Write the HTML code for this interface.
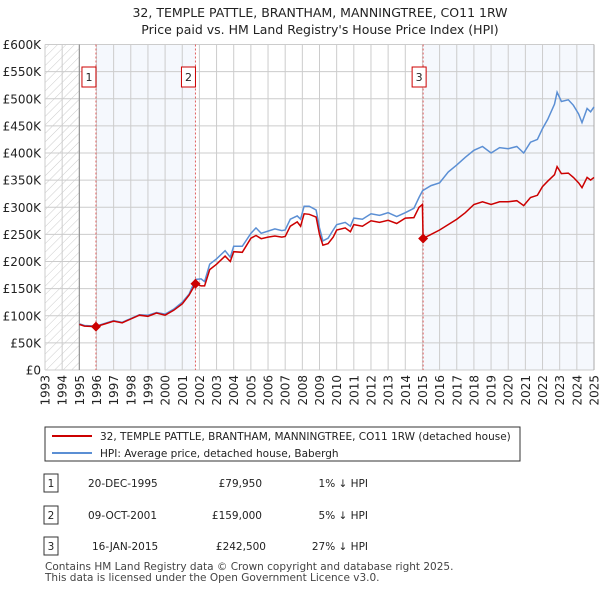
<!DOCTYPE html>
<html><head><meta charset="utf-8"><style>
body{margin:0;background:#fff;font-family:"DejaVu Sans","Liberation Sans",sans-serif;}
svg text{font-family:"DejaVu Sans","Liberation Sans",sans-serif;}
</style></head><body>
<svg width="600" height="590" id="svg">
<text x="320" y="17" text-anchor="middle" font-size="12.5" fill="#222">32, TEMPLE PATTLE, BRANTHAM, MANNINGTREE, CO11 1RW</text>
<text x="320" y="34" text-anchor="middle" font-size="12.5" fill="#222">Price paid vs. HM Land Registry's House Price Index (HPI)</text>
<defs><pattern id="hatch" width="6" height="6" patternUnits="userSpaceOnUse" patternTransform="rotate(45)"><line x1="0" y1="0" x2="0" y2="6" stroke="#ccc" stroke-width="1"/></pattern></defs>
<g id="plot"></g>
<rect x="45" y="427" width="475" height="34" fill="#fff" stroke="#333"/>
<line x1="52" y1="436" x2="92" y2="436" stroke="#cc0000" stroke-width="2"/>
<text x="100" y="440" font-size="10.5" fill="#222">32, TEMPLE PATTLE, BRANTHAM, MANNINGTREE, CO11 1RW (detached house)</text>
<line x1="52" y1="453" x2="92" y2="453" stroke="#5b8fd4" stroke-width="2"/>
<text x="100" y="457" font-size="10.5" fill="#222">HPI: Average price, detached house, Babergh</text>
<g font-size="10.5" fill="#222">
<rect x="44" y="474" width="14" height="18" fill="#fff" stroke="#333"/><text x="51" y="487" text-anchor="middle">1</text>
<text x="88" y="487">20-DEC-1995</text><text x="262" y="487" text-anchor="end">£79,950</text><text x="368" y="487" text-anchor="end">1% ↓ HPI</text>
<rect x="44" y="506" width="14" height="18" fill="#fff" stroke="#333"/><text x="51" y="519" text-anchor="middle">2</text>
<text x="88" y="519">09-OCT-2001</text><text x="262" y="519" text-anchor="end">£159,000</text><text x="368" y="519" text-anchor="end">5% ↓ HPI</text>
<rect x="44" y="537" width="14" height="18" fill="#fff" stroke="#333"/><text x="51" y="550" text-anchor="middle">3</text>
<text x="92" y="550">16-JAN-2015</text><text x="266" y="550" text-anchor="end">£242,500</text><text x="368" y="550" text-anchor="end">27% ↓ HPI</text>
</g>
<text x="45" y="570" font-size="10.5" fill="#444">Contains HM Land Registry data © Crown copyright and database right 2025.</text>
<text x="45" y="581" font-size="10.5" fill="#444">This data is licensed under the Open Government Licence v3.0.</text>
</svg>
<script>
const times=[1995.0,1995.3,1995.97,1996.5,1997.0,1997.5,1998.0,1998.5,1999.0,1999.5,2000.0,2000.5,2001.0,2001.4,2001.77,2002.1,2002.3,2002.6,2003.0,2003.5,2003.8,2004.0,2004.5,2005.0,2005.3,2005.6,2006.0,2006.4,2006.8,2007.0,2007.3,2007.7,2007.9,2008.1,2008.4,2008.8,2009.0,2009.2,2009.5,2009.8,2010.0,2010.5,2010.8,2011.0,2011.5,2012.0,2012.5,2013.0,2013.5,2014.0,2014.5,2014.8,2015.0,2015.04,2015.5,2016.0,2016.5,2017.0,2017.5,2018.0,2018.5,2019.0,2019.5,2020.0,2020.5,2020.9,2021.3,2021.7,2022.0,2022.3,2022.7,2022.85,2023.1,2023.5,2023.8,2024.1,2024.3,2024.6,2024.8,2025.0];
const hpiValues=[85,82,81,86,91,88,95,102,101,106,103,112,125,140,167,168,163,195,205,220,208,228,228,252,262,252,256,260,257,258,278,284,278,302,302,295,262,238,243,258,268,272,265,280,278,288,285,290,283,290,298,318,330,331,340,345,365,378,392,405,412,400,410,408,412,400,420,425,445,462,490,512,495,498,488,472,456,482,476,485];
const priceValues=[84,81,80,85,90,87,94,101,99,105,101,110,122,138,159,155,155,185,195,210,200,218,217,243,248,242,245,247,245,246,265,273,265,288,287,282,250,230,233,245,258,262,255,268,265,275,272,276,270,280,281,300,305,242.5,250,258,268,278,290,305,310,305,310,310,312,303,318,322,338,348,360,375,362,363,355,345,336,355,350,355];
const yTicks=[0,50,100,150,200,250,300,350,400,450,500,550,600];
const yTickLabels=["£0","£50K","£100K","£150K","£200K","£250K","£300K","£350K","£400K","£450K","£500K","£550K","£600K"];
const xYears=[1993,1994,1995,1996,1997,1998,1999,2000,2001,2002,2003,2004,2005,2006,2007,2008,2009,2010,2011,2012,2013,2014,2015,2016,2017,2018,2019,2020,2021,2022,2023,2024,2025];
const saleTimes=[1995.97,2001.77,2015.04];
const salePrices=[79.95,159,242.5];
const saleLabels=["1","2","3"];
const X0=45,X1=594,Y0=370,Y1=44.5;
const x=t=>X0+(t-1993)/(2025-1993)*(X1-X0);
const y=v=>Y0-v/600*(Y0-Y1);
const NS="http://www.w3.org/2000/svg";
const g=document.getElementById('plot');
function mk(tag,attrs){const e=document.createElementNS(NS,tag);for(const k in attrs)e.setAttribute(k,attrs[k]);g.appendChild(e);return e;}
let e;
e=mk('rect',{x:x(1993),y:Y1,width:x(1995)-x(1993),height:Y0-Y1,fill:'url(#hatch)'});


e=mk('rect',{x:x(saleTimes[0]),y:Y1,width:x(saleTimes[1])-x(saleTimes[0]),height:Y0-Y1,fill:'#eef3fc',opacity:0.6});


e=mk('rect',{x:x(saleTimes[2]),y:Y1,width:X1-x(saleTimes[2]),height:Y0-Y1,fill:'#eef3fc',opacity:0.6});


yTicks.forEach((v,i)=>{
 e=mk('line',{x1:X0,x2:X1,y1:y(v),y2:y(v),stroke:'#ccc','stroke-width':1});
 
 
 e=mk('text',{x:41,y:y(v)+4.5,'text-anchor':'end','font-size':12,fill:'#222'});
 e.textContent=yTickLabels[i];
 
 
});
xYears.forEach(yr=>{
 e=mk('line',{x1:x(yr),x2:x(yr),y1:Y1,y2:Y0,stroke:'#ccc','stroke-width':1});
 
 
 e=mk('text',{x:0,y:0,'font-size':12,fill:'#222','text-anchor':'end',transform:`translate(${x(yr)+4.5},${Y0+5}) rotate(-90)`});
 e.textContent=yr;
 
 
});
e=mk('line',{x1:x(1995),x2:x(1995),y1:Y1,y2:Y0,stroke:'#888'});


e=mk('line',{x1:X1,x2:X1,y1:Y1,y2:Y0,stroke:'#aaa'});


saleTimes.forEach((t,i)=>{
 e=mk('line',{x1:x(t),x2:x(t),y1:Y1,y2:Y0,stroke:'#e06060','stroke-dasharray':'2,2','stroke-width':1});
 
 
});
const pts=a=>a.map((v,i)=>x(times[i]).toFixed(1)+','+y(v).toFixed(1)).join(' ');
e=mk('polyline',{points:pts(hpiValues),fill:'none',stroke:'#5b8fd4','stroke-width':1.5});


e=mk('polyline',{points:pts(priceValues),fill:'none',stroke:'#cc0000','stroke-width':1.5});


saleTimes.forEach((t,i)=>{
 const cx=x(t),cy=y(salePrices[i]);
 e=mk('polygon',{points:`${cx},${cy-5} ${cx+5},${cy} ${cx},${cy+5} ${cx-5},${cy}`,fill:'#cc0000'});
 
 
 e=mk('rect',{x:cx-11-(i==2?0:3),y:67,width:14,height:20,fill:'#fff',stroke:'#cc0000'});
 
 
 e=mk('text',{x:cx-4-(i==2?0:3),y:81,'text-anchor':'middle','font-size':11,fill:'#222'});
 e.textContent=saleLabels[i];
 
 
});
</script>
</body></html>
